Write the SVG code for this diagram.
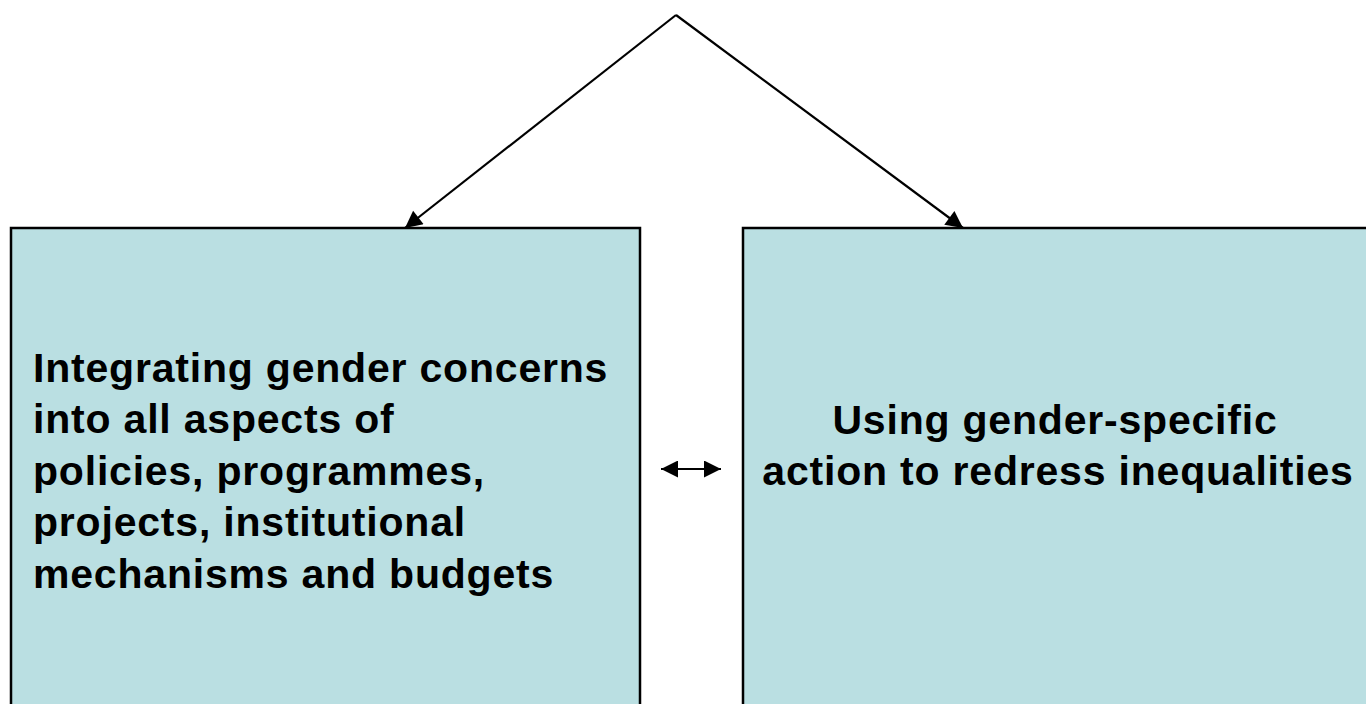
<svg xmlns="http://www.w3.org/2000/svg" width="1366" height="704" viewBox="0 0 1366 704">
<style>
.box{fill:#badfe2;stroke:#000;stroke-width:2.5}
.t{font-family:"Liberation Sans",Arial,sans-serif;font-weight:bold;font-size:41px;letter-spacing:0.8px;fill:#000}
.c{stroke:#000;stroke-width:2.2;fill:none}
</style>
<defs>
<marker id="ah2" viewBox="0 0 10 10" refX="10" refY="5" markerWidth="20" markerHeight="17" markerUnits="userSpaceOnUse" orient="auto-start-reverse">
<path d="M0,0 L10,5 L0,10 z" fill="#000"/>
</marker>
</defs>
<g id="connectors">
<path class="c" d="M676,15 L405,228" marker-end="url(#ah2)"/>
<path class="c" d="M676,15 L963,228" marker-end="url(#ah2)"/>
<path class="c" d="M661,469 L721,469" marker-start="url(#ah2)" marker-end="url(#ah2)"/>
</g>
<g id="left-box">
<rect class="box" x="11" y="228" width="629" height="500"/>
<text class="t" x="33" y="382">Integrating gender concerns</text>
<text class="t" x="33" y="433">into all aspects of</text>
<text class="t" x="33" y="485">policies, programmes,</text>
<text class="t" x="33" y="536">projects, institutional</text>
<text class="t" x="33" y="588">mechanisms and budgets</text>
</g>
<g id="right-box">
<rect class="box" x="743" y="228" width="640" height="500"/>
<text class="t" x="1055" y="434" text-anchor="middle">Using gender-specific</text>
<text class="t" x="1058" y="485" text-anchor="middle">action to redress inequalities</text>
</g>
</svg>
